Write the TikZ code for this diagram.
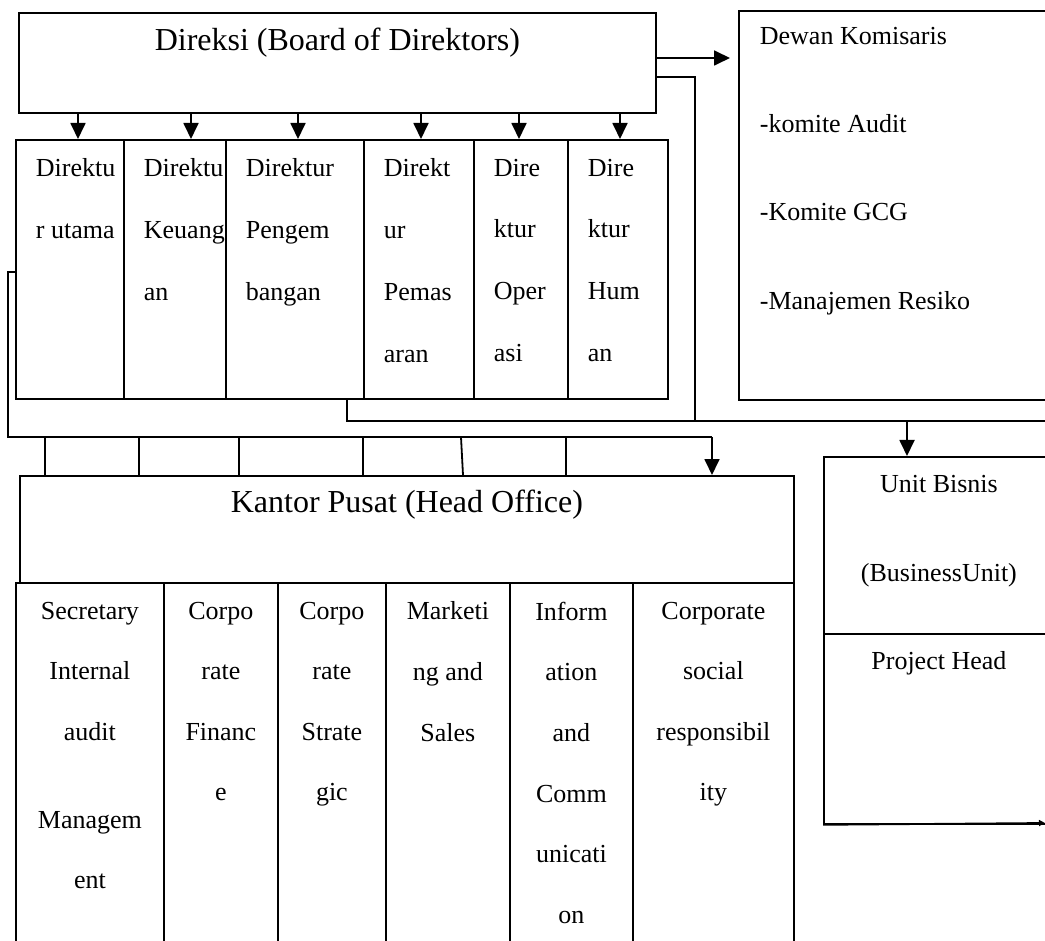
\documentclass[tikz,border=0pt]{standalone}
\usepackage{fontspec}
\setmainfont{Liberation Serif}
\usetikzlibrary{arrows.meta,calc}
\begin{document}
\begin{tikzpicture}[x=0.5pt,y=-0.5pt,
  line width=0.9pt,
  bx/.style 2 args={draw, line width=0.9pt, inner sep=0pt, anchor=north west,
     minimum width=#1*0.5pt, minimum height=#2*0.5pt},
  dirtxt/.style={inner sep=0pt, anchor=north west, align=left,
     font=\fontsize{13}{30.85}\selectfont},
  tabtxt/.style={inner sep=0pt, anchor=north, align=center,
     font=\fontsize{13}{30.3}\selectfont},
  sidetxt/.style={inner sep=0pt, anchor=north west, align=left,
     font=\fontsize{13}{44.2}\selectfont},
  unittxt/.style={inner sep=0pt, anchor=north, align=center,
     font=\fontsize{13}{44.5}\selectfont},
  titletxt/.style={inner sep=0pt, font=\fontsize{16}{19}\selectfont},
  arr/.style={-{Triangle[length=8pt,width=7.5pt]}}]
\useasboundingbox (0,0) rectangle (1045,941);
\clip (0,0) rectangle (1045,941);

% top level
\node[bx={637}{100}] (direksi) at (18,12) {};
\node[titletxt] (direksiT) at ($(direksi.north)+(0,31)$) {Direksi (Board of Direktors)};
\node[bx={330}{389}] (dewan) at (738,10) {};
\node[sidetxt] (dewanT) at ($(dewan.north west)+(21,16)$)
  {Dewan Komisaris\\-komite Audit\\-Komite GCG\\-Manajemen Resiko};

% directors
\node[bx={108}{259}] (d1) at (15,139) {};
\node[bx={102}{259}] (d2) at (123,139) {};
\node[bx={138}{259}] (d3) at (225,139) {};
\node[bx={110}{259}] (d4) at (363,139) {};
\node[bx={94}{259}]  (d5) at (473,139) {};
\node[bx={100}{259}] (d6) at (567,139) {};
\node[dirtxt] (d1T) at ($(d1.north west)+(20,19)$) {Direktu\\r utama};
\node[dirtxt] (d2T) at ($(d2.north west)+(20,19)$) {Direktu\\Keuang\\an};
\node[dirtxt] (d3T) at ($(d3.north west)+(20,19)$) {Direktur\\Pengem\\bangan};
\node[dirtxt] (d4T) at ($(d4.north west)+(20,19)$) {Direkt\\ur\\Pemas\\aran};
\node[dirtxt] (d5T) at ($(d5.north west)+(20,19)$) {Dire\\ktur\\Oper\\asi};
\node[dirtxt] (d6T) at ($(d6.north west)+(20,19)$) {Dire\\ktur\\Hum\\an};

% head office
\node[bx={774}{107}] (kantor) at (19,475) {};
\node[titletxt] (kantorT) at ($(kantor.north)+(0,30)$) {Kantor Pusat (Head Office)};
\node[bx={148}{380}] (t1) at (15,582) {};
\node[bx={114}{380}] (t2) at (163,582) {};
\node[bx={108}{380}] (t3) at (277,582) {};
\node[bx={124}{380}] (t4) at (385,582) {};
\node[bx={123}{380}] (t5) at (509,582) {};
\node[bx={161}{380}] (t6) at (632,582) {};
\node[tabtxt] (t1T) at ($(t1.north)+(0,19)$) {Secretary\\Internal\\audit\\[13.7pt]Managem\\ent};
\node[tabtxt] (t2T) at ($(t2.north)+(0,19)$) {Corpo\\rate\\Financ\\e};
\node[tabtxt] (t3T) at ($(t3.north)+(0,19)$) {Corpo\\rate\\Strate\\gic};
\node[tabtxt] (t4T) at ($(t4.north)+(0,19)$) {Marketi\\ng and\\Sales};
\node[tabtxt] (t5T) at ($(t5.north)+(0,19)$) {Inform\\ation\\and\\Comm\\unicati\\on};
\node[tabtxt] (t6T) at ($(t6.north)+(0,19)$) {Corporate\\social\\responsibil\\ity};

% business unit
\node[bx={230}{177}] (unit) at (823,456) {};
\node[bx={230}{190}] (project) at (823,633) {};
\node[unittxt] (unitT) at ($(unit.north)+(0,18)$) {Unit Bisnis\\(BusinessUnit)};
\node[unittxt] (projectT) at ($(project.north)+(0,18)$) {Project Head};

% connectors: Direksi -> directors
\coordinate (a1) at (78,0);
\coordinate (a2) at (191,0);
\coordinate (a3) at (298,0);
\coordinate (a4) at (421,0);
\coordinate (a5) at (519,0);
\coordinate (a6) at (620,0);
\draw[arr] (direksi.south -| a1) -- (d1.north -| a1);
\draw[arr] (direksi.south -| a2) -- (d2.north -| a2);
\draw[arr] (direksi.south -| a3) -- (d3.north -| a3);
\draw[arr] (direksi.south -| a4) -- (d4.north -| a4);
\draw[arr] (direksi.south -| a5) -- (d5.north -| a5);
\draw[arr] (direksi.south -| a6) -- (d6.north -| a6);

% Direksi -> Dewan Komisaris
\draw[arr] ($(direksi.north east)+(0,46)$) -- ($(dewan.north west)+(-8,48)$);

% Direksi / Pengembangan -> business unit
\coordinate (bus1) at (695,421);
\coordinate (p3) at (347,0);
\coordinate (busR) at (1070,421);
\coordinate (bu) at (907,421);
\draw ($(direksi.north east)+(0,65)$) -| (bus1);
\draw (d3.south -| p3) |- (busR);
\draw[arr] (bu) -- (unit.north -| bu);

% left bus -> head office
\coordinate (lt) at (8,272);
\coordinate (lb) at (8,437);
\coordinate (ka) at (712,437);
\draw (d1.west |- lt) -- (lt) -- (lb) -- (ka);
\draw[arr] (ka) -- (kantor.north -| ka);
\coordinate (r1) at (45,437);
\coordinate (r2) at (139,437);
\coordinate (r3) at (239,437);
\coordinate (r4) at (363,437);
\coordinate (r5) at (461,437);
\coordinate (r6) at (566,437);
\draw (r1) -- (kantor.north -| r1);
\draw (r2) -- (kantor.north -| r2);
\draw (r3) -- (kantor.north -| r3);
\draw (r4) -- (kantor.north -| r4);
\draw (r5) -- ($(kantor.north -| r5)+(2,0)$);
\draw (r6) -- (kantor.north -| r6);

% outgoing arrow at the bottom of the business unit
\coordinate (ue) at (1045,823);
\draw[-{Triangle[length=3pt,width=3pt]}] (project.south west) -- (ue);
\end{tikzpicture}
\end{document}
